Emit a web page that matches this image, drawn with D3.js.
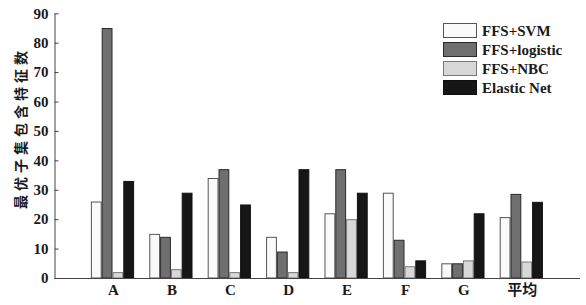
<!DOCTYPE html>
<html>
<head>
<meta charset="utf-8">
<script src="https://cdn.jsdelivr.net/npm/d3@7"></script>
<style>
  body { margin: 0; background: #fff; }
  svg { display: block; }
</style>
</head>
<body>
<svg id="chart" width="586" height="305"></svg>
<script>
const categories = ["A", "B", "C", "D", "E", "F", "G", "平均"];
const seriesNames = ["FFS+SVM", "FFS+logistic", "FFS+NBC", "Elastic Net"];
const svmValues = [26, 15, 34, 14, 22, 29, 5, 20.7];
const logisticValues = [85, 14, 37, 9, 37, 13, 5, 28.6];
const nbcValues = [2, 3, 2, 2, 20, 4, 6, 5.6];
const elasticValues = [33, 29, 25, 37, 29, 6, 22, 25.9];
const yTicks = [0, 10, 20, 30, 40, 50, 60, 70, 80, 90];

const fills = ["#fafafa", "#6f6f6f", "#d8d8d8", "#161616"];
const strokes = ["#555", "#2a2a2a", "#777", "#111"];
const allValues = [svmValues, logisticValues, nbcValues, elasticValues];

const svg = d3.select("#chart");
const serif = "'Liberation Serif', 'Times New Roman', serif";

const x = d3.scaleBand()
    .domain(categories)
    .range([83.3, 550.5])
    .paddingInner(0.26)
    .paddingOuter(0.13);

const xs = d3.scaleBand()
    .domain(seriesNames)
    .range([0, x.bandwidth()]);

const y = d3.scaleLinear()
    .domain([0, 90])
    .range([278, 13.3]);

// bars
const groups = svg.append("g")
    .selectAll("g")
    .data(categories)
    .join("g")
    .attr("transform", d => `translate(${x(d)},0)`);

groups.selectAll("rect")
    .data((c, i) => seriesNames.map((s, k) => ({ s, k, v: allValues[k][i] })))
    .join("rect")
    .attr("x", d => xs(d.s) + 0.5)
    .attr("y", d => y(d.v) + 0.5)
    .attr("width", xs.bandwidth() - 1)
    .attr("height", d => Math.max(0, y(0) - y(d.v) - 0.5))
    .style("fill", d => fills[d.k])
    .style("stroke", d => strokes[d.k])
    .style("stroke-width", 1);

// y axis
const yAxis = svg.append("g")
    .attr("transform", "translate(54.5,0)")
    .call(d3.axisRight(y).tickValues(yTicks).tickSize(4).tickSizeOuter(0).tickPadding(0));
yAxis.select(".domain").attr("stroke", "#444");
yAxis.selectAll(".tick line").attr("stroke", "#444");
yAxis.selectAll(".tick text")
    .attr("x", -6)
    .attr("text-anchor", "end")
    .style("font-family", serif)
    .style("font-weight", "bold")
    .style("font-size", "15px")
    .style("fill", "#1a1a1a");

// x axis
const xAxis = svg.append("g")
    .attr("transform", "translate(0,278.5)");
xAxis.append("line")
    .attr("x1", 54.5).attr("x2", 580)
    .attr("stroke", "#444");
xAxis.selectAll("text")
    .data(categories)
    .join("text")
    .attr("x", d => x(d) + x.bandwidth() / 2 + 1)
    .attr("y", 16.5)
    .attr("text-anchor", "middle")
    .style("font-family", d => d === "平均" ? "'Noto Sans CJK SC', sans-serif" : serif)
    .style("font-weight", "bold")
    .style("font-size", "15px")
    .style("fill", "#1a1a1a")
    .text(d => d);

// y label
svg.append("text")
    .attr("transform", "translate(26,128) rotate(-90)")
    .attr("text-anchor", "middle")
    .style("font-family", "'Noto Sans CJK SC', sans-serif")
    .style("font-weight", "bold")
    .style("font-size", "14px")
    .style("letter-spacing", "4px")
    .style("fill", "#1a1a1a")
    .text("最优子集包含特征数");

// legend
const legend = svg.append("g")
    .attr("transform", "translate(443,23)");
const item = legend.selectAll("g")
    .data(seriesNames)
    .join("g")
    .attr("transform", (d, i) => `translate(0,${i * 19})`);
item.append("rect")
    .attr("x", 0.5).attr("y", 0.5)
    .attr("width", 33).attr("height", 14)
    .style("fill", (d, i) => fills[i])
    .style("stroke", (d, i) => strokes[i]);
item.append("text")
    .attr("x", 39)
    .attr("y", 12.5)
    .style("font-family", serif)
    .style("font-weight", "bold")
    .style("font-size", "15px")
    .style("fill", "#1a1a1a")
    .text(d => d);
</script>
</body>
</html>
